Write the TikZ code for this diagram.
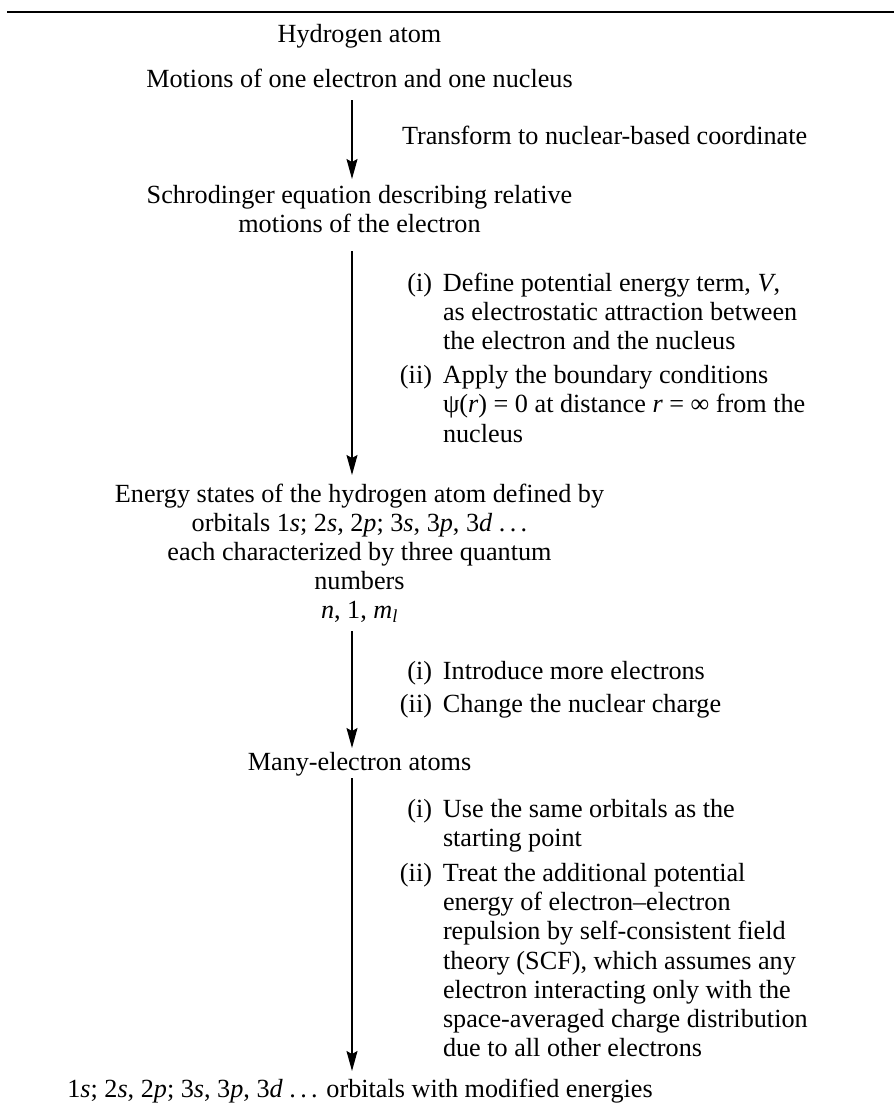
\documentclass[tikz,border=0pt]{standalone}
\usepackage{fontspec}
\setmainfont{Liberation Serif}
\usetikzlibrary{arrows.meta}
\newcommand\bodyfs{\fontsize{26.2}{29.2}\selectfont}
\newcommand\lbl[1]{\makebox[34pt][r]{#1}}
\begin{document}
\begin{tikzpicture}[x=1pt,y=-1pt,
  every node/.style={inner sep=0pt, outer sep=0pt, font=\bodyfs},
  ctr/.style={anchor=base},
  lft/.style={anchor=base west},
  flow/.style={line width=1.3pt, -{Stealth[length=20pt,width=11pt,inset=3pt]}}]
\useasboundingbox (0,0) rectangle (894,1106);
\draw[line width=2pt] (7,12) -- (894,12);

\node[ctr] (hyd) at (359.5,42) {Hydrogen atom};
\node[ctr] (mot) at (359.5,87) {Motions of one electron and one nucleus};
\node[lft] (trans) at (402,144) {Transform to nuclear-based coordinate};
\node[ctr] (sch) at (359.5,203) {\begin{tabular}[t]{@{}c@{}}Schrodinger equation describing relative\\ motions of the electron\end{tabular}};
\node[lft] (st1) at (398,291) {\begin{tabular}[t]{@{}l@{\hspace{11pt}}l@{}}
\lbl{(i)} & Define potential energy term, \textit{V},\\
 & as electrostatic attraction between\\
 & the electron and the nucleus\\[5pt]
\lbl{(ii)} & Apply the boundary conditions\\
 & ψ(\textit{r}) = 0 at distance \textit{r} = ∞ from the\\
 & nucleus
\end{tabular}};
\node[ctr] (energy) at (359.5,502) {\begin{tabular}[t]{@{}c@{}}Energy states of the hydrogen atom defined by\\
orbitals 1\textit{s}; 2\textit{s}, 2\textit{p}; 3\textit{s}, 3\textit{p}, 3\textit{d} .\,.\,.\\
each characterized by three quantum\\
numbers\\
\textit{n}, 1, \textit{m}\textsubscript{\textit{l}}\end{tabular}};
\node[lft] (st2) at (398,679) {\begin{tabular}[t]{@{}l@{\hspace{11pt}}l@{}}
\lbl{(i)} & Introduce more electrons\\[4pt]
\lbl{(ii)} & Change the nuclear charge
\end{tabular}};
\node[ctr] (many) at (359.5,770) {Many-electron atoms};
\node[lft] (st3) at (398,817) {\begin{tabular}[t]{@{}l@{\hspace{11pt}}l@{}}
\lbl{(i)} & Use the same orbitals as the\\
 & starting point\\[6pt]
\lbl{(ii)} & Treat the additional potential\\
 & energy of electron–electron\\
 & repulsion by self-consistent field\\
 & theory (SCF), which assumes any\\
 & electron interacting only with the\\
 & space-averaged charge distribution\\
 & due to all other electrons
\end{tabular}};
\node[ctr] (final) at (360,1097) {1\textit{s}; 2\textit{s}, 2\textit{p}; 3\textit{s}, 3\textit{p}, 3\textit{d} .\,.\,. orbitals with modified energies};

\coordinate (a1s) at (352,100);
\coordinate (a1e) at (352,179);
\coordinate (a2s) at (352,251);
\coordinate (a2e) at (352,475);
\coordinate (a3s) at (352,631);
\coordinate (a3e) at (352,748);
\coordinate (a4s) at (352,778);
\coordinate (a4e) at (352,1071);
\draw[flow] (a1s) -- (a1e);
\draw[flow] (a2s) -- (a2e);
\draw[flow] (a3s) -- (a3e);
\draw[flow] (a4s) -- (a4e);
\end{tikzpicture}
\end{document}
